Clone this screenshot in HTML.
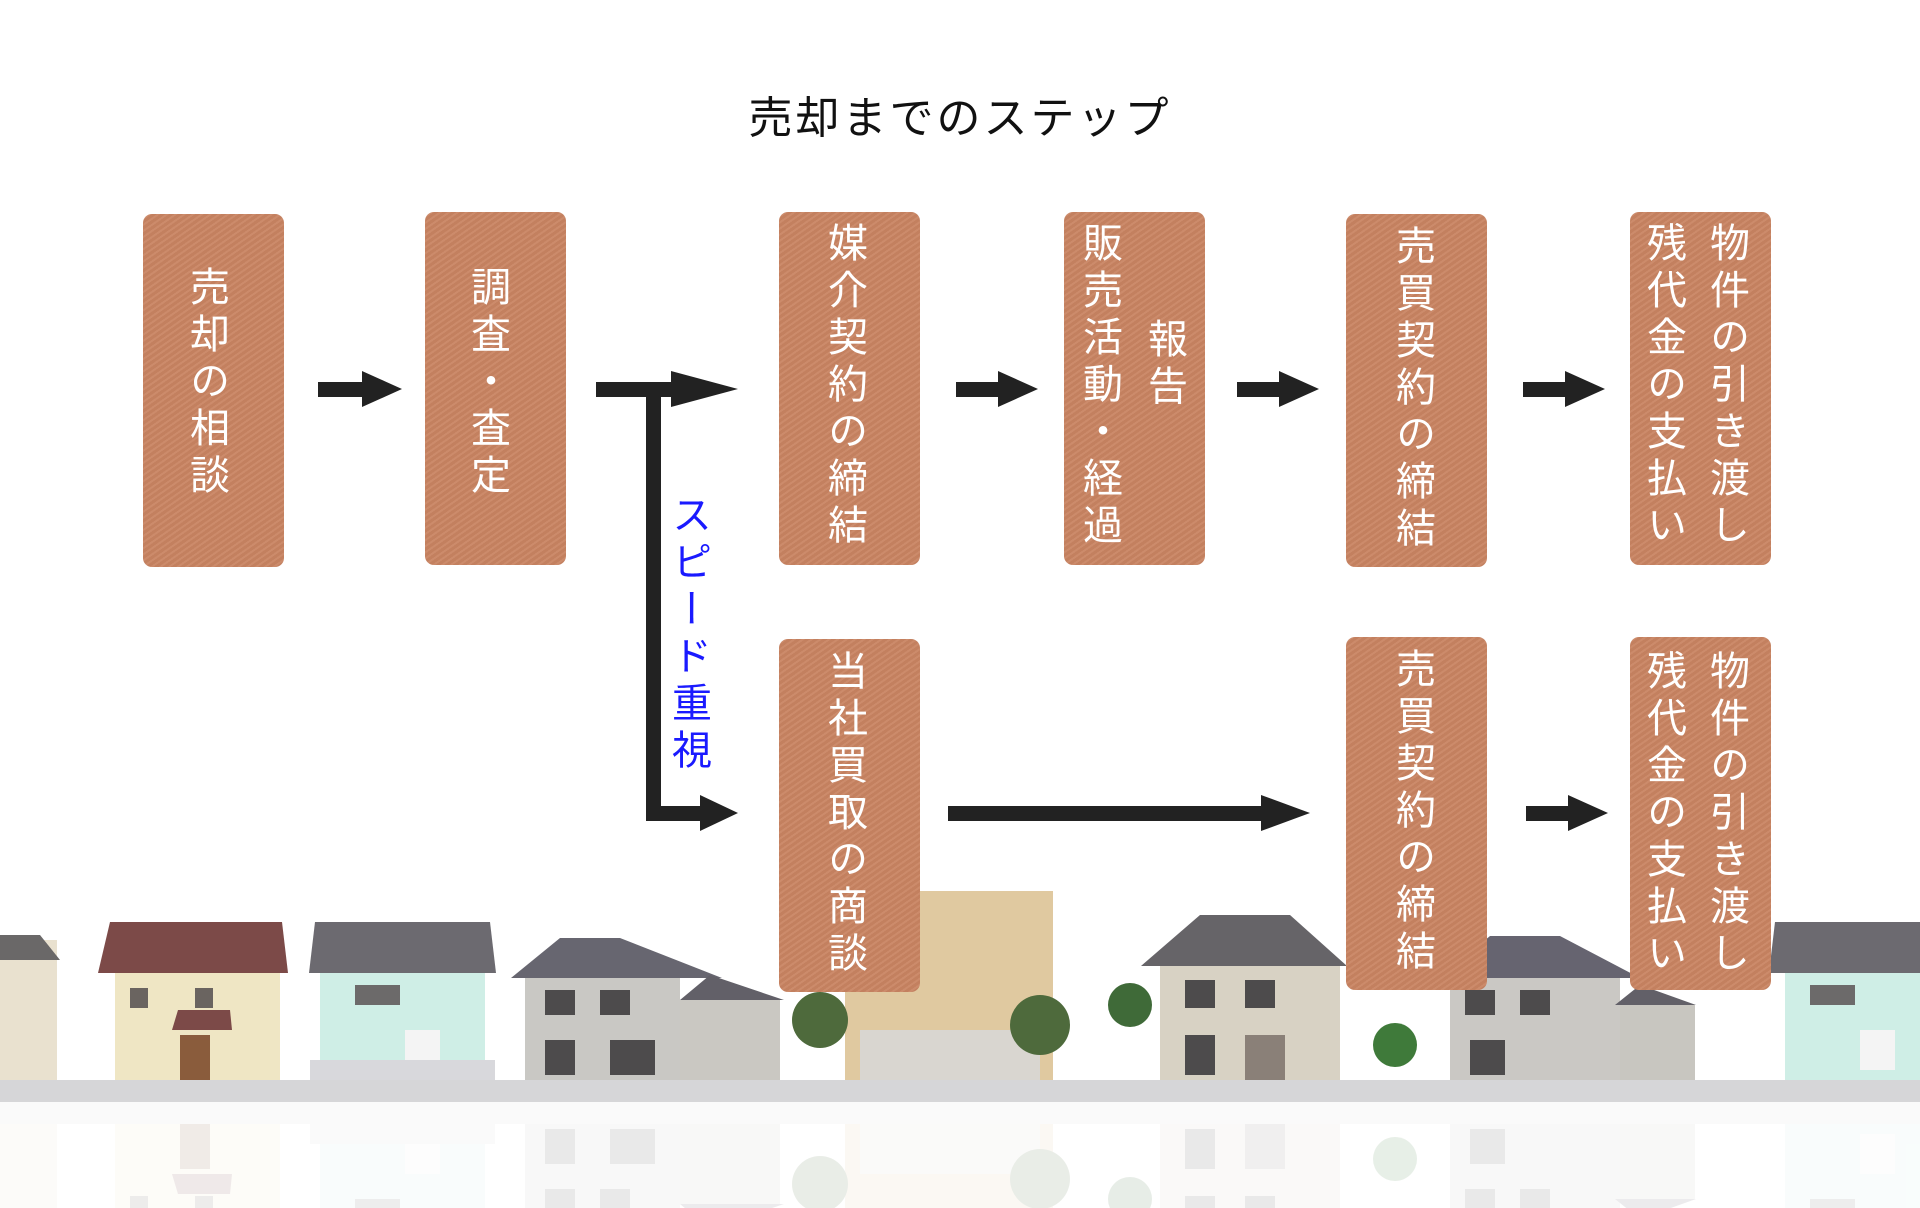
<!DOCTYPE html>
<html style="overflow:hidden"><head><meta charset="utf-8"><style>
html,body{margin:0;width:1920px;height:1208px;overflow:hidden;}
body{background:#fff;font-family:"Liberation Sans","Noto Sans CJK JP",sans-serif;}
#w{position:relative;width:1920px;height:1208px;overflow:hidden;}
.t{position:absolute;left:0;width:1920px;top:82px;text-align:center;font-size:44px;letter-spacing:3px;color:#111;}
.b{position:absolute;width:141px;height:353px;border-radius:9px;background:#c98462;background-image:repeating-linear-gradient(-35deg,rgba(255,255,255,.06) 0 2px,rgba(0,0,0,.03) 2px 5px);}
.c{position:absolute;width:44px;writing-mode:vertical-rl;font-size:40px;letter-spacing:7px;color:#fff;line-height:44px;}
svg{position:absolute;left:0;top:0;}
</style></head><body><div id="w">
<svg width="1920" height="1208" viewBox="0 0 1920 1208" style="overflow:hidden">
<defs>
<clipPath id="cp"><rect x="0" y="0" width="1920" height="1208"/></clipPath>
<g id="houses">
 <rect x="0" y="940" width="57" height="145" fill="#e9e1cf"/><polygon points="0,935 40,935 60,960 0,960" fill="#6a6868"/>
 <rect x="115" y="972" width="165" height="112" fill="#efe6c4"/><polygon points="98,973 110,922 282,922 288,973" fill="#7c4a48"/>
 <rect x="180" y="1035" width="30" height="48" fill="#8a5c3c"/><polygon points="172,1030 178,1010 230,1010 232,1030" fill="#7c4a48"/>
 <rect x="130" y="988" width="18" height="20" fill="#6a6460"/><rect x="195" y="988" width="18" height="20" fill="#6a6460"/>
 <rect x="320" y="972" width="165" height="112" fill="#cfeee6"/><polygon points="309,973 315,922 490,922 496,973" fill="#6c6a70"/>
 <rect x="355" y="985" width="45" height="20" fill="#6c6a6a"/><rect x="405" y="1030" width="35" height="40" fill="#f4f4f4"/>
 <rect x="310" y="1060" width="185" height="24" fill="#d8d8dc"/>
 <rect x="525" y="975" width="155" height="110" fill="#c9c8c4"/><polygon points="511,978 560,938 620,938 722,978" fill="#676670"/>
 <rect x="680" y="1000" width="100" height="85" fill="#cac8c2"/><polygon points="680,1000 710,975 784,1000" fill="#626068"/>
 <rect x="545" y="990" width="30" height="25" fill="#4d4b4c"/><rect x="600" y="990" width="30" height="25" fill="#4d4b4c"/><rect x="545" y="1040" width="30" height="35" fill="#4d4b4c"/><rect x="610" y="1040" width="45" height="35" fill="#4d4b4c"/>
 <rect x="845" y="891" width="208" height="195" fill="#e0c9a0"/><rect x="860" y="1030" width="180" height="56" fill="#d9d6d0"/>
 <circle cx="820" cy="1020" r="28" fill="#4e6a3c"/><circle cx="1040" cy="1025" r="30" fill="#4e6a3c"/>
 <rect x="1160" y="960" width="180" height="125" fill="#d8d2c4"/><polygon points="1141,966 1200,915 1290,915 1347,966" fill="#666468"/>
 <rect x="1185" y="980" width="30" height="28" fill="#4d4b4c"/><rect x="1245" y="980" width="30" height="28" fill="#4d4b4c"/><rect x="1185" y="1035" width="30" height="40" fill="#4d4b4c"/><rect x="1245" y="1035" width="40" height="45" fill="#8a8078"/>
 <circle cx="1130" cy="1005" r="22" fill="#3f6a38"/><circle cx="1395" cy="1045" r="22" fill="#3f7a3a"/>
 <rect x="1450" y="975" width="170" height="110" fill="#cac8c4"/><polygon points="1439,978 1490,936 1560,936 1640,978" fill="#666470"/>
 <rect x="1620" y="1005" width="75" height="80" fill="#c8c6c0"/><polygon points="1615,1005 1640,985 1696,1005" fill="#626068"/>
 <rect x="1465" y="990" width="30" height="25" fill="#4d4b4c"/><rect x="1520" y="990" width="30" height="25" fill="#4d4b4c"/><rect x="1470" y="1040" width="35" height="35" fill="#4d4b4c"/>
 <rect x="1785" y="970" width="135" height="115" fill="#cfeee6"/><polygon points="1769,973 1775,922 1920,922 1920,973" fill="#6c6a70"/>
 <rect x="1810" y="985" width="45" height="20" fill="#6c6a6a"/><rect x="1860" y="1030" width="35" height="40" fill="#f4f4f4"/>
 <rect x="0" y="1080" width="1920" height="22" fill="#d6d6d8"/>
</g>
</defs>
<use href="#houses"/>
<g clip-path="url(#cp)"><g opacity="0.18" transform="translate(0,2204) scale(1,-1)"><use href="#houses"/></g></g>
<rect x="0" y="1102" width="1920" height="106" fill="#fff" opacity="0.35"/>
<g fill="#222">
 <rect x="318" y="382" width="46" height="15"/><polygon points="362,371 402,389 362,407"/>
 <rect x="596" y="382" width="80" height="15"/><polygon points="671,371 738,389 671,407"/>
 <rect x="646" y="382" width="15" height="439"/>
 <rect x="646" y="806" width="60" height="15"/><polygon points="700,795 738,813 700,831"/>
 <rect x="956" y="382" width="44" height="15"/><polygon points="998,371 1038,389 998,407"/>
 <rect x="1237" y="382" width="44" height="15"/><polygon points="1279,371 1319,389 1279,407"/>
 <rect x="1523" y="382" width="44" height="15"/><polygon points="1565,371 1605,389 1565,407"/>
 <rect x="948" y="806" width="315" height="15"/><polygon points="1261,795 1310,813 1261,831"/>
 <rect x="1526" y="806" width="44" height="15"/><polygon points="1568,795 1608,813 1568,831"/>
</g>
</svg>
<div class="t">売却までのステップ</div>
<div class="b" style="left:143px;top:214px"></div>
<div class="b" style="left:425px;top:212px"></div>
<div class="b" style="left:779px;top:212px"></div>
<div class="b" style="left:1064px;top:212px"></div>
<div class="b" style="left:1346px;top:214px"></div>
<div class="b" style="left:1630px;top:212px"></div>
<div class="b" style="left:779px;top:639px"></div>
<div class="b" style="left:1346px;top:637px"></div>
<div class="b" style="left:1630px;top:637px"></div>
<div class="c" style="left:184px;top:266px">売却の相談</div>
<div class="c" style="left:465px;top:266px">調査・査定</div>
<div class="c" style="left:822px;top:222px">媒介契約の締結</div>
<div class="c" style="left:1077px;top:222px">販売活動・経過</div>
<div class="c" style="left:1142px;top:318px">報告</div>
<div class="c" style="left:1390px;top:225px">売買契約の締結</div>
<div class="c" style="left:1641px;top:222px">残代金の支払い</div>
<div class="c" style="left:1704px;top:222px">物件の引き渡し</div>
<div class="c" style="left:822px;top:650px">当社買取の商談</div>
<div class="c" style="left:1390px;top:648px">売買契約の締結</div>
<div class="c" style="left:1641px;top:650px">残代金の支払い</div>
<div class="c" style="left:1704px;top:650px">物件の引き渡し</div>
<div class="c" style="left:666px;top:494px;color:#1a1aff;font-size:40px;letter-spacing:7px">スピード重視</div>
</div></body></html>
